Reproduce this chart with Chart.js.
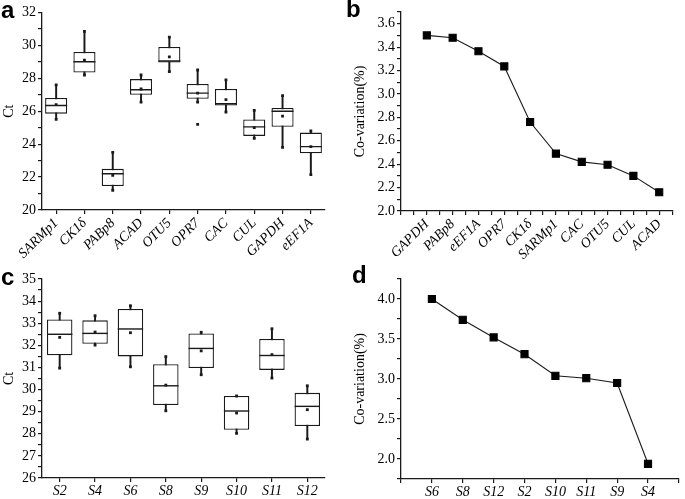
<!DOCTYPE html>
<html>
<head>
<meta charset="utf-8">
<script src="https://cdn.jsdelivr.net/npm/chart.js@4.4.1/dist/chart.umd.min.js"></script>
<style>
  body { margin: 0; background: #fff; }
  #wrap { position: relative; width: 685px; height: 499px; overflow: hidden; background: #fff; }
  canvas { position: absolute; }
  .tag { position: absolute; font: bold 24px "Liberation Sans", Arial, sans-serif; line-height: 24px; color: #000; }
</style>
</head>
<body>
<div id="wrap">
  <canvas id="chartA" width="345" height="262" style="left:0;top:0"></canvas>
  <canvas id="chartB" width="340" height="262" style="left:345px;top:0"></canvas>
  <canvas id="chartC" width="345" height="249" style="left:0;top:250px"></canvas>
  <canvas id="chartD" width="340" height="249" style="left:345px;top:250px"></canvas>
  <div class="tag" style="left:1px;top:-2px">a</div>
  <div class="tag" style="left:346px;top:-3px">b</div>
  <div class="tag" style="left:1px;top:265px">c</div>
  <div class="tag" style="left:352px;top:263px">d</div>
</div>
<script>
// panel a - Ct of candidate genes
const aGenes  = ['SARMp1', 'CK1δ', 'PABp8', 'ACAD', 'OTU5', 'OPR7', 'CAC', 'CUL', 'GAPDH', 'eEF1A'];
const aMin    = [25.5, 28.2, 21.2, 26.55, 28.4, 26.55, 25.95, 24.35, 23.8, 22.15];
const aQ1     = [25.85, 28.35, 21.45, 27.0, 28.95, 26.75, 26.35, 24.5, 25.05, 23.45];
const aMedian = [26.35, 29.0, 22.2, 27.3, 29.05, 27.1, 26.45, 25.05, 26.0, 23.85];
const aMean   = [26.4, 29.1, 22.1, 27.35, 29.3, 27.1, 26.7, 25.0, 25.7, 23.85];
const aQ3     = [26.8, 29.6, 22.5, 27.95, 29.9, 27.65, 27.35, 25.5, 26.2, 24.7];
const aMax    = [27.6, 30.85, 23.5, 28.2, 30.5, 28.5, 27.9, 26.05, 26.95, 24.8];
const aOutlier = [null, null, null, null, null, 25.2, null, null, null, null];

// panel b - co-variation of genes
const bGenes = ['GAPDH', 'PABp8', 'eEF1A', 'OPR7', 'CK1δ', 'SARMp1', 'CAC', 'OTU5', 'CUL', 'ACAD'];
const bCV    = [3.50, 3.48, 3.365, 3.235, 2.76, 2.49, 2.42, 2.395, 2.30, 2.16];

// panel c - Ct of samples
const cSamples = ['S2', 'S4', 'S6', 'S8', 'S9', 'S10', 'S11', 'S12'];
const cMin    = [30.97, 32.01, 31.03, 29.04, 30.67, 28.02, 30.52, 27.76];
const cQ1     = [31.55, 32.07, 31.5, 29.3, 30.97, 28.18, 30.89, 28.35];
const cMedian = [32.5, 32.54, 32.74, 30.17, 31.86, 29.03, 31.54, 29.24];
const cMean   = [32.36, 32.6, 32.57, 30.2, 31.75, 28.94, 31.58, 29.09];
const cQ3     = [33.17, 33.13, 33.64, 31.15, 32.54, 29.71, 32.29, 29.85];
const cMax    = [33.45, 33.34, 33.79, 31.49, 32.59, 29.71, 32.75, 30.17];

// panel d - co-variation of samples
const dSamples = ['S6', 'S8', 'S12', 'S2', 'S10', 'S11', 'S9', 'S4'];
const dCV      = [4.0, 3.74, 3.52, 3.31, 3.04, 3.01, 2.95, 1.94];

const serif = 'Liberation Serif';
const ink = '#1a1a1a';
const tickFont = { family: serif, size: 14 };
const italicFont = { family: serif, size: 14, style: 'italic' };

function axisGrid() {
  return { drawOnChartArea: false, drawTicks: true, tickLength: 4, color: ink, lineWidth: 1.2, offset: false };
}

function boxChart(id, labels, mins, q1, med, mean, q3, maxs, outliers, opts) {
  const ctx = document.getElementById(id).getContext('2d');
  const H = ctx.canvas.height;
  const dot = { type: 'line', showLine: false, pointStyle: 'rect', pointRadius: 2,
    pointBackgroundColor: ink, pointBorderColor: ink, pointBorderWidth: 0, order: 1 };
  const datasets = [
    { type: 'bar', data: mins.map((m, i) => [m, maxs[i]]), backgroundColor: ink,
      barThickness: 1.3, grouped: false, order: 5 },
    { type: 'bar', data: q1.map((v, i) => [v, q3[i]]), backgroundColor: '#fff',
      borderColor: ink, borderWidth: 1.3, borderSkipped: false, grouped: false,
      barPercentage: opts.boxPct, categoryPercentage: 1, order: 4 },
    { type: 'line', data: med, showLine: false, pointStyle: 'line', pointRadius: opts.medRadius,
      pointBorderColor: ink, pointBorderWidth: 1.4, order: 3 },
    Object.assign({ data: mean }, dot),
    Object.assign({ data: mins }, dot),
    Object.assign({ data: maxs }, dot)
  ];
  if (outliers) datasets.push(Object.assign({ data: outliers }, dot));
  return new Chart(ctx, {
    type: 'bar',
    data: { labels: labels, datasets: datasets },
    options: {
      responsive: false,
      animation: false,
      layout: { padding: { top: opts.top, right: opts.right, left: 0, bottom: 0 } },
      plugins: { legend: { display: false }, tooltip: { enabled: false } },
      scales: {
        x: {
          offset: true,
          grid: axisGrid(),
          border: { color: ink, width: 1.3 },
          ticks: { color: '#000', font: italicFont, autoSkip: false, padding: 1,
                   minRotation: opts.rot, maxRotation: opts.rot },
          afterFit: (s) => { s.height = H - opts.bottom; }
        },
        y: {
          min: opts.min, max: opts.max,
          grid: axisGrid(),
          border: { color: ink, width: 1.3 },
          title: { display: true, text: 'Ct', color: '#000', font: tickFont, padding: { top: 1, bottom: 0 } },
          ticks: { color: '#000', font: tickFont, stepSize: opts.step, autoSkip: false, padding: 2,
                   callback: (v) => (Math.abs(v - Math.round(v / opts.labelStep) * opts.labelStep) < 1e-6 ? v : '') },
          afterFit: (s) => { s.width = 42; }
        }
      }
    }
  });
}

function cvChart(id, labels, values, opts) {
  const ctx = document.getElementById(id).getContext('2d');
  const H = ctx.canvas.height;
  return new Chart(ctx, {
    type: 'scatter',
    data: {
      datasets: [{
        data: values.map((v, i) => ({ x: i + 1, y: v })),
        showLine: true, borderColor: ink, borderWidth: 1.1,
        pointStyle: 'rect', pointRadius: 5, pointBackgroundColor: '#000', pointBorderColor: '#000'
      }]
    },
    options: {
      responsive: false,
      animation: false,
      layout: { padding: { top: opts.top, right: opts.right, left: 0, bottom: 0 } },
      plugins: { legend: { display: false }, tooltip: { enabled: false } },
      scales: {
        x: {
          type: 'linear', min: 0, max: opts.xMax,
          grid: axisGrid(),
          border: { color: ink, width: 1.3 },
          ticks: { color: '#000', font: italicFont, stepSize: opts.xStep, autoSkip: false, padding: 1,
                   minRotation: opts.rot, maxRotation: opts.rot,
                   callback: (v) => (Number.isInteger(v) && v >= 1 && v <= labels.length ? labels[v - 1] : '') },
          afterFit: (s) => { s.height = H - opts.bottom; }
        },
        y: {
          min: opts.min, max: opts.max,
          grid: axisGrid(),
          border: { color: ink, width: 1.3 },
          title: { display: true, text: 'Co-variation(%)', color: '#000', font: tickFont, padding: { top: 7, bottom: 0 } },
          ticks: { color: '#000', font: tickFont, stepSize: opts.step, autoSkip: false, padding: 2,
                   callback: (v) => (Math.abs(v / opts.labelStep - Math.round(v / opts.labelStep)) < 1e-6 ? v.toFixed(1) : '') },
          afterFit: (s) => { s.width = 56; }
        }
      }
    }
  });
}

boxChart('chartA', aGenes, aMin, aQ1, aMedian, aMean, aQ3, aMax, aOutlier,
  { min: 20, max: 32, step: 1, labelStep: 2, top: 11, right: 20, bottom: 210, rot: 45, boxPct: 0.78, medRadius: 11 });
cvChart('chartB', bGenes, bCV,
  { min: 2.0, max: 3.7, step: 0.1, labelStep: 0.2, xMax: 10.5, xStep: 0.5, top: 12, right: 2, bottom: 211, rot: 45 });
boxChart('chartC', cSamples, cMin, cQ1, cMedian, cMean, cQ3, cMax, null,
  { min: 26, max: 35, step: 0.5, labelStep: 1, top: 29, right: 20, bottom: 228, rot: 0, boxPct: 0.72, medRadius: 12.7 });
cvChart('chartD', dSamples, dCV,
  { min: 1.75, max: 4.25, step: 0.25, labelStep: 0.5, xMax: 9, xStep: 1, top: 29, right: 2, bottom: 229, rot: 0 });
</script>
</body>
</html>
